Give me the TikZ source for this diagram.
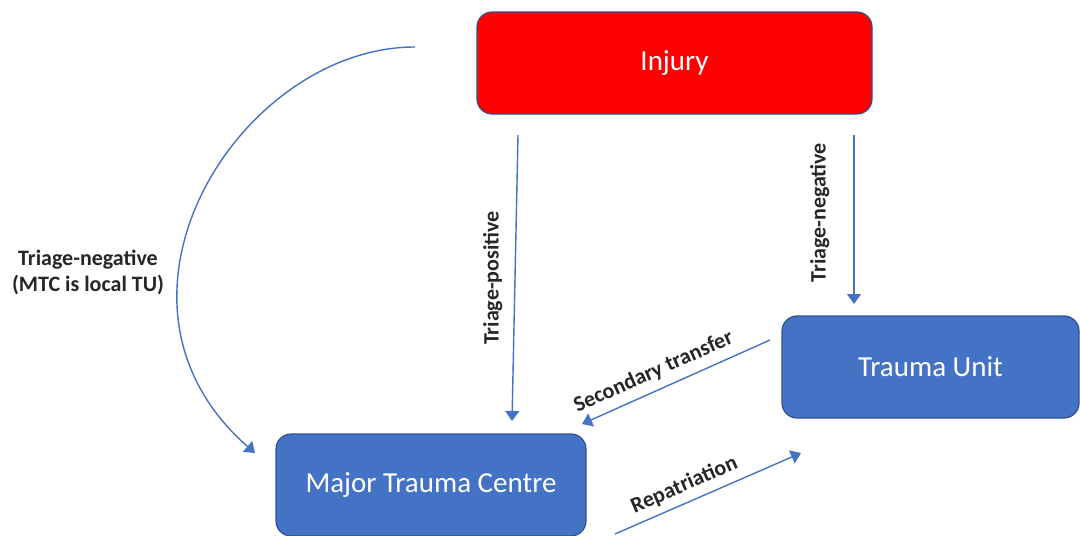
\documentclass[tikz,border=0pt]{standalone}
\usepackage{fontspec}
\setmainfont{Carlito}
\usetikzlibrary{positioning,arrows.meta}
\definecolor{siteBlue}{HTML}{4472C4}
\definecolor{siteEdge}{HTML}{2F528F}
\definecolor{injuryRed}{HTML}{FF0000}
\tikzset{site node/.style={rectangle,rounded corners=7.5pt,draw=siteEdge,line width=0.6pt,fill=siteBlue,text=white,minimum height=51pt,font=\fontsize{14.5}{17}\selectfont}}
\tikzset{path label/.style={font=\bfseries\fontsize{11}{13}\selectfont,text=black!85}}
\tikzset{flow/.style={siteBlue,line width=0.7pt,-{Triangle[width=7pt,length=5pt]}}}

\begin{document}
\begin{tikzpicture}[x=0.5pt,y=-0.5pt]
    \useasboundingbox (0,0) rectangle (1080,535);
    \node[site node,fill=injuryRed,minimum width=197.5pt] (1) at (674.5,63) {Injury};
    \node[site node,minimum width=148.5pt] (2) at (930.5,367) {Trauma Unit};
    \node[site node,minimum width=155pt] (3) at (431,485) {Major Trauma Centre};

    \coordinate (a) at (415,47);
    \coordinate (b) at (255,453);
    \coordinate (c) at (518,135);
    \coordinate (d) at (512,421);
    \coordinate (e) at (854,135);
    \coordinate (f) at (854,304);
    \coordinate (g) at (770,340);
    \coordinate (h) at (582,424);
    \coordinate (i) at (615,534);
    \coordinate (j) at (801,453);

    \draw[flow] (a) .. controls (240,47) and (80,300) .. (b);
    \node[path label,align=center] (k) at (88,272) {Triage-negative\\(MTC is local TU)};
    \draw[flow] (c) -- node[path label,midway,rotate=90,anchor=south,inner sep=6pt] {Triage-positive} (d);
    \draw[flow] (e) -- node[path label,pos=0.46,rotate=90,anchor=south,inner sep=12pt] {Triage-negative} (f);
    \draw[flow] (g) -- node[path label,pos=0.58,sloped,above,inner sep=4pt] {Secondary transfer} (h);
    \draw[flow] (i) -- node[path label,pos=0.41,sloped,above,inner sep=3.5pt] {Repatriation} (j);
\end{tikzpicture}
\end{document}
